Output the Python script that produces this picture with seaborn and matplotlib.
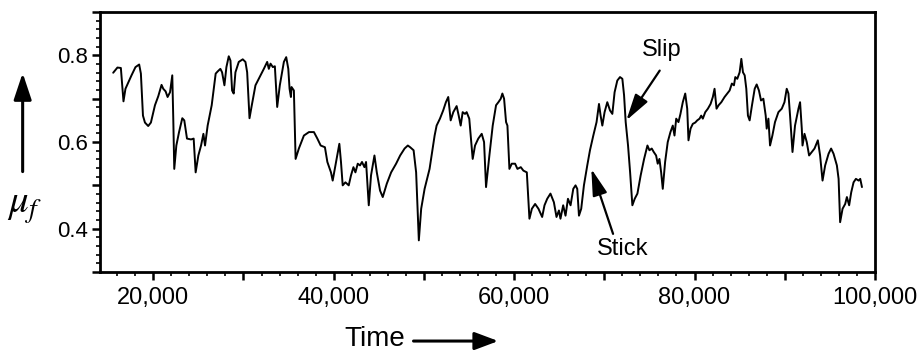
import numpy as np
import pandas as pd
import matplotlib
matplotlib.use("Agg")
import matplotlib.pyplot as plt
from matplotlib.patches import FancyArrowPatch
from matplotlib.ticker import MultipleLocator, FuncFormatter
import seaborn as sns

# Friction coefficient trace, split into time segments
time_a = [15560, 16030, 16410, 16700, 16920, 17590, 18030, 18440, 18630, 18860,
          19080, 19440, 19740, 20190, 20560, 20920, 21110, 21370, 21590, 21860,
          22110, 22220, 22330, 22560, 22860, 23220, 23440, 23740, 24190, 24480,
          24700, 25000, 25300, 25560, 25740, 26030, 26480, 26920, 27140]
mu_a = [.760, .772, .771, .694, .723, .754, .773, .779, .758, .661,
        .645, .637, .645, .685, .706, .732, .723, .717, .704, .715,
        .754, .654, .538, .592, .623, .655, .650, .608, .606, .608,
        .530, .569, .592, .619, .592, .638, .685, .758, .763]

time_b = [27440, 27630, 27890, 28110, 28370, 28560, 28740, 28920, 29110, 29480,
          29920, 30220, 30410, 30670, 30890, 31330, 31700, 32260, 32630, 32810,
          33000, 33260, 33480, 33740, 34030, 34480, 34740, 34970, 35110, 35260,
          35330, 35590, 35780, 36140, 36700, 37260, 37810, 38190, 38560, 39030,
          39300]
mu_b = [.769, .761, .731, .773, .798, .788, .719, .712, .761, .785,
        .791, .785, .761, .655, .681, .731, .746, .769, .785, .769,
        .781, .773, .775, .681, .731, .785, .796, .769, .723, .704,
        .727, .719, .561, .585, .615, .623, .623, .608, .592, .588,
        .554]

time_c = [39700, 39890, 40260, 40630, 40810, 41000, 41300, 41670, 41920, 42190,
          42410, 42670, 42920, 43140, 43410, 43590, 43890, 44140, 44520, 44780,
          45140, 45440, 45890, 46370, 46920, 47370, 47860, 48220, 48480, 48860,
          49140, 49440, 49700, 50080, 50630, 51190]
mu_c = [.530, .511, .554, .596, .554, .500, .507, .500, .523, .542,
        .530, .550, .546, .554, .542, .554, .454, .523, .569, .530,
        .488, .473, .504, .530, .550, .569, .585, .592, .588, .581,
        .530, .373, .446, .492, .538, .615]

time_d = [51410, 51780, 52140, 52440, 52700, 52970, 53260, 53630, 53860, 54080,
          54300, 54560, 54740, 55030, 55190, 55410, 55670, 56030, 56410, 56670,
          56890, 57260, 57630, 58000, 58260, 58520, 58700, 58890, 59110, 59260,
          59480, 59740, 60110, 60370, 60740, 61030, 61410, 61700, 61970, 62330,
          62700]
mu_d = [.638, .654, .673, .692, .704, .650, .669, .683, .661, .638,
        .669, .665, .669, .654, .615, .561, .592, .608, .619, .600,
        .496, .569, .638, .685, .692, .700, .712, .700, .646, .638,
        .538, .550, .550, .538, .542, .534, .530, .423, .446, .457,
        .446]

time_e = [63110, 63370, 63670, 64030, 64410, 64700, 64970, 65140, 65440, 65700,
          65970, 66260, 66560, 66810, 67000, 67190, 67440, 67740, 68110, 68410,
          68780, 69140, 69410, 69590, 69780, 70030, 70330, 70630, 70890, 71140,
          71440, 71740, 72000, 72190, 72370, 72630, 72860, 73110, 73370, 73670,
          74030, 74410, 74780]
mu_e = [.427, .454, .469, .481, .461, .427, .442, .423, .454, .430,
        .469, .454, .492, .500, .492, .430, .446, .500, .546, .581,
        .615, .646, .688, .661, .638, .669, .692, .673, .665, .715,
        .742, .750, .746, .708, .646, .592, .530, .454, .469, .481,
        .523, .561, .592]

time_f = [75000, 75260, 75480, 75740, 75920, 76110, 76300, 76480, 76740, 77030,
          77330, 77590, 77780, 77970, 78220, 78440, 78700, 78970, 79190, 79330,
          79560, 79810, 80080, 80300, 80560, 80740, 80920, 81190, 81480, 81780,
          82030, 82220, 82440, 82670, 82970, 83330, 83630, 83890, 84140, 84370,
          84520, 84740, 85000, 85190, 85370, 85560, 85740, 85920, 86110, 86370,
          86670]
mu_f = [.581, .585, .577, .569, .550, .561, .530, .492, .554, .600,
        .623, .638, .615, .654, .646, .665, .692, .712, .677, .604,
        .631, .642, .645, .650, .654, .661, .654, .669, .677, .688,
        .704, .723, .677, .685, .692, .704, .712, .719, .735, .731,
        .750, .746, .761, .792, .761, .754, .723, .661, .650, .685,
        .723]

time_g = [86890, 87140, 87370, 87630, 87890, 88000, 88190, 88370, 88630, 88920,
          89300, 89670, 89970, 90220, 90410, 90590, 90860, 91140, 91520, 91700,
          91890, 91970, 92190, 92440, 92700, 93000, 93300, 93670, 93920, 94190,
          94480, 94860, 95140, 95410, 95780, 95970, 96140, 96410, 96700, 96890,
          97140, 97370, 97630, 97890, 98190, 98370, 98560]
mu_g = [.733, .719, .696, .700, .661, .631, .654, .592, .615, .646,
        .669, .677, .692, .723, .712, .661, .577, .638, .677, .692,
        .631, .592, .619, .600, .569, .577, .585, .604, .569, .511,
        .546, .573, .585, .573, .546, .515, .415, .446, .457, .473,
        .454, .484, .507, .515, .511, .515, .496]

# Annotation anchors (data units): arrow tip, arrow tail, text position
slip_tip, slip_tail, slip_text = (72440, 0.650), (76140, 0.765), (76330, 0.813)
stick_tip, stick_tail, stick_text = (68560, 0.538), (70970, 0.388), (72080, 0.354)

df = pd.DataFrame({
    "time": np.concatenate([time_a, time_b, time_c, time_d, time_e, time_f, time_g]),
    "mu": np.concatenate([mu_a, mu_b, mu_c, mu_d, mu_e, mu_f, mu_g]),
})

sns.set_theme(style="ticks")
plt.rcParams["font.family"] = ["Liberation Sans", "DejaVu Sans"]
plt.rcParams["mathtext.fontset"] = "stix"
plt.rcParams["text.color"] = "black"
plt.rcParams["xtick.labelcolor"] = "black"
plt.rcParams["ytick.labelcolor"] = "black"

fig = plt.figure(figsize=(9.21, 3.56), dpi=100)
ax = fig.add_axes([0.1086, 0.236, 0.8414, 0.730])

sns.lineplot(data=df, x="time", y="mu", ax=ax, color="black", lw=1.4,
             estimator=None, sort=False)

ax.set_xlim(14100, 100000)
ax.set_ylim(0.3, 0.9)

ax.xaxis.set_major_locator(MultipleLocator(10000))
ax.xaxis.set_minor_locator(MultipleLocator(2000))
ax.xaxis.set_major_formatter(FuncFormatter(
    lambda v, p: f"{int(round(v)):,}" if int(round(v)) % 20000 == 0 else ""))
ax.yaxis.set_major_locator(MultipleLocator(0.1))
ax.yaxis.set_minor_locator(MultipleLocator(0.02))
ax.yaxis.set_major_formatter(FuncFormatter(
    lambda v, p: f"{v:.1f}" if int(round(v * 10)) in (4, 6, 8) else ""))

ax.tick_params(axis="both", which="major", direction="out", length=6, width=1.8,
               color="black", labelcolor="black")
ax.tick_params(axis="both", which="minor", direction="out", length=3, width=1.2,
               color="black")
ax.tick_params(axis="x", which="major", labelsize=17, pad=5)
ax.tick_params(axis="y", which="major", labelsize=16, pad=3)

for side in ["top", "bottom", "left", "right"]:
    ax.spines[side].set_visible(True)
    ax.spines[side].set_linewidth(2.0)
    ax.spines[side].set_color("black")

ax.set_xlabel("")
ax.set_ylabel("")

# Slip / Stick callouts
arrow_kw = dict(arrowstyle="-|>,head_length=0.9,head_width=0.25", color="black",
                lw=1.6, mutation_scale=18, shrinkA=0, shrinkB=0)
ax.annotate("", xy=slip_tip, xytext=slip_tail, arrowprops=arrow_kw)
ax.text(*slip_text, "Slip", fontsize=17, ha="center", va="center", color="black")
ax.annotate("", xy=stick_tip, xytext=stick_tail, arrowprops=arrow_kw)
ax.text(*stick_text, "Stick", fontsize=17, ha="center", va="center", color="black")

# Axis titles with direction arrows
fig.text(0.027, 0.416, r"$\mu_f$", fontsize=28, ha="center", va="center",
         color="black")
fig.add_artist(FancyArrowPatch(
    (0.0246, 0.518), (0.0246, 0.795), transform=fig.transFigure,
    arrowstyle="-|>,head_length=0.9,head_width=0.3", mutation_scale=18,
    color="black", lw=2.2, shrinkA=0, shrinkB=0))

fig.text(0.407, 0.048, "Time", fontsize=20, ha="center", va="center",
         color="black")
fig.add_artist(FancyArrowPatch(
    (0.449, 0.042), (0.541, 0.042), transform=fig.transFigure,
    arrowstyle="-|>,head_length=0.8,head_width=0.3", mutation_scale=18,
    color="black", lw=2.2, shrinkA=0, shrinkB=0))

fig.savefig("out.png", dpi=100)
